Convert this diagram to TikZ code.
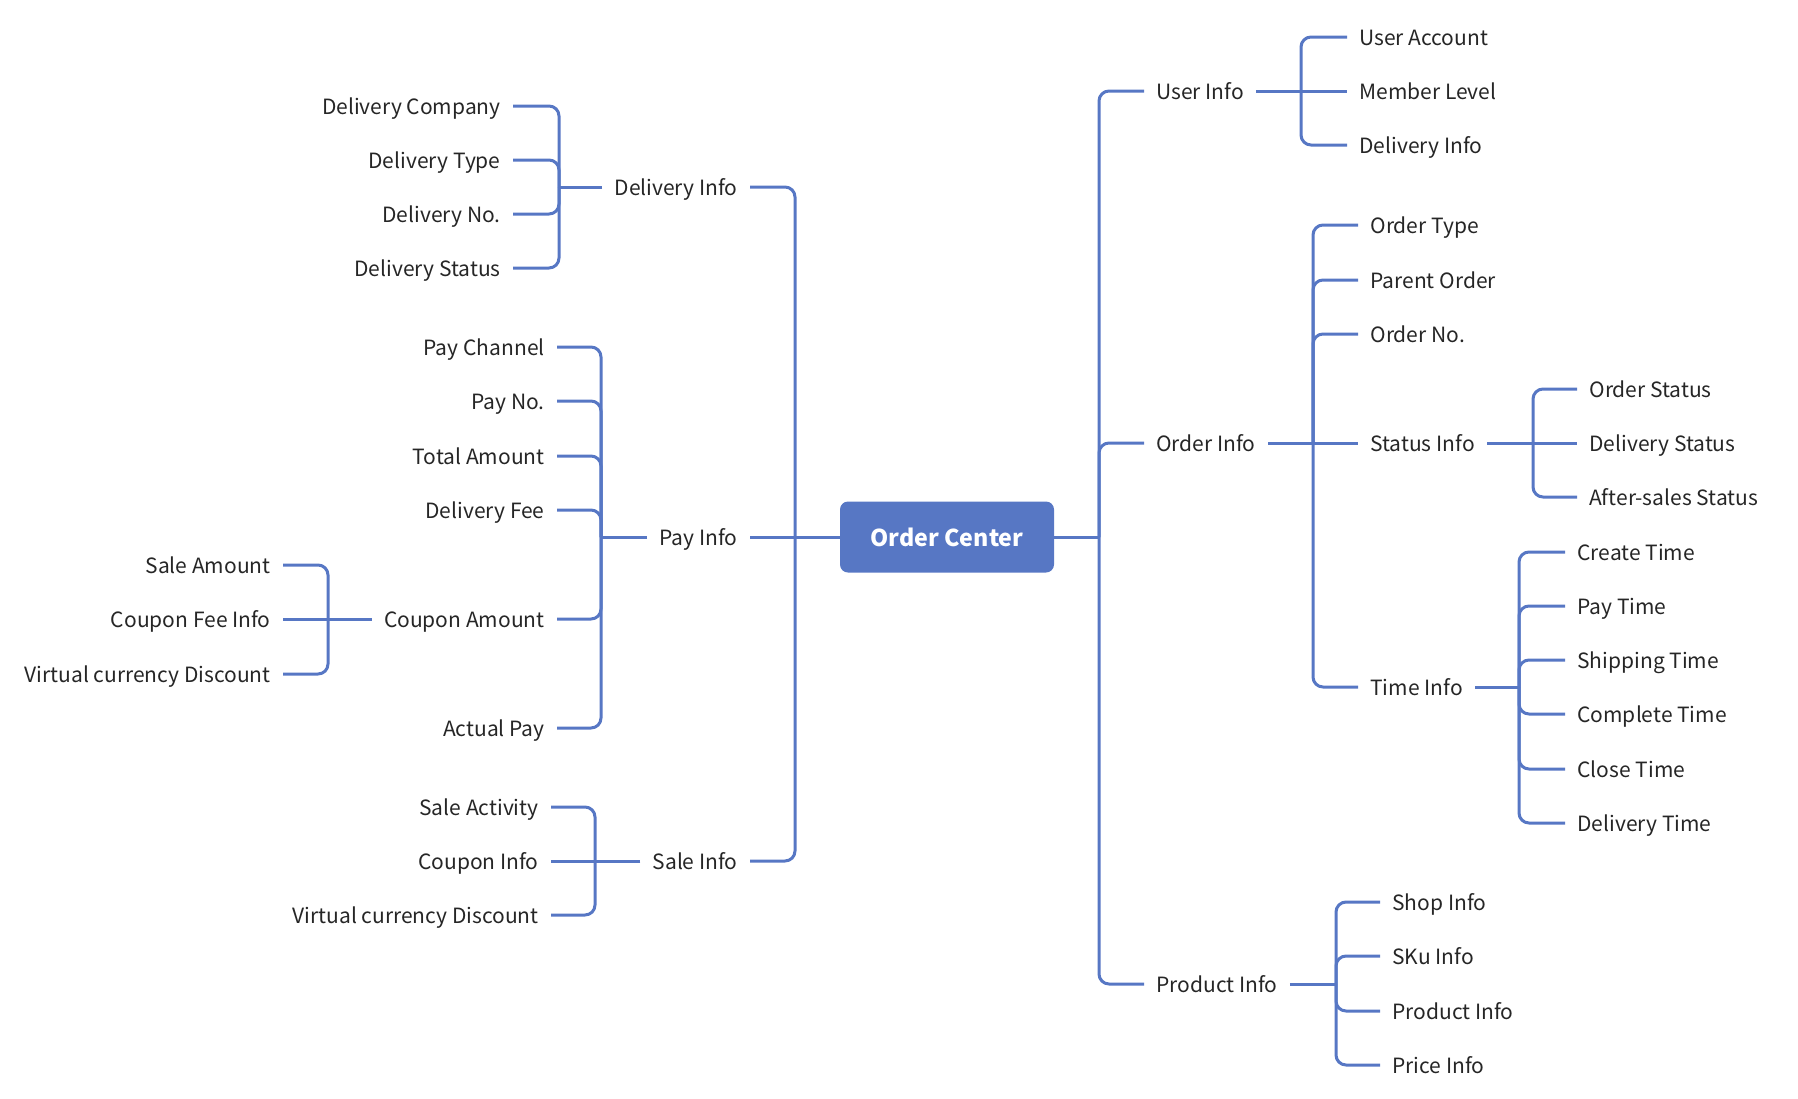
\documentclass[tikz,border=0pt]{standalone}
\usepackage{fontspec}
\setmainfont{Noto Sans CJK SC}
\usepackage{xcolor}
\definecolor{mapblue}{RGB}{87,119,196}
\definecolor{maptext}{RGB}{38,38,38}

\begin{document}
\begin{tikzpicture}[x=0.5pt,y=-0.5pt,
    lbl/.style={inner ysep=0pt, inner xsep=6pt, text height=8.3pt, text depth=0pt,
        font=\fontsize{10.5}{13}\selectfont, text=maptext},
    rlbl/.style={lbl, anchor=west},
    llbl/.style={lbl, anchor=east},
    edge/.style={draw=mapblue, line width=1.5pt, rounded corners=5pt},
    rootbox/.style={fill=mapblue, rounded corners=4pt, minimum width=107pt, minimum height=35.5pt,
        text=white, font=\fontsize{11.6}{14}\selectfont\bfseries}]
    \useasboundingbox (0,0) rectangle (1798,1098);

    % Root
    \node[rootbox] (root) at (947,537) {Order Center};
    \coordinate (rootR) at (1099,537);
    \coordinate (rootL) at (795,537);
    \draw[edge] (root.east) -- (rootR);
    \draw[edge] (root.west) -- (rootL);

    %% right side
    \node[rlbl] (uinfo) at (1144,91) {User Info};
    \node[rlbl] (oinfo) at (1144,443) {Order Info};
    \node[rlbl] (prinfo) at (1144,984) {Product Info};
    \foreach \c in {uinfo,oinfo,prinfo} \draw[edge] (rootR) |- (\c.west);

    % User Info
    \node[rlbl] (uacc) at (1347,37) {User Account};
    \node[rlbl] (mlvl) at (1347,91) {Member Level};
    \node[rlbl] (udlv) at (1347,145) {Delivery Info};
    \coordinate (uinfoJ) at (1301,91);
    \draw[edge] (uinfo.east) -- (mlvl.west);
    \foreach \c in {uacc,udlv} \draw[edge] (uinfoJ) |- (\c.west);

    % Order Info
    \node[rlbl] (otype) at (1358,225) {Order Type};
    \node[rlbl] (parent) at (1358,280) {Parent Order};
    \node[rlbl] (ono) at (1358,334) {Order No.};
    \node[rlbl] (sinf) at (1358,443) {Status Info};
    \node[rlbl] (tinf) at (1358,687) {Time Info};
    \coordinate (oinfoJ) at (1313,443);
    \draw[edge] (oinfo.east) -- (sinf.west);
    \foreach \c in {otype,parent,ono,tinf} \draw[edge] (oinfoJ) |- (\c.west);

    % Status Info
    \node[rlbl] (ostat) at (1577,389) {Order Status};
    \node[rlbl] (dstat) at (1577,443) {Delivery Status};
    \node[rlbl] (astat) at (1577,497) {After-sales Status};
    \coordinate (sinfJ) at (1533,443);
    \draw[edge] (sinf.east) -- (dstat.west);
    \foreach \c in {ostat,astat} \draw[edge] (sinfJ) |- (\c.west);

    % Time Info
    \node[rlbl] (tcreate) at (1565,552) {Create Time};
    \node[rlbl] (tpay) at (1565,606) {Pay Time};
    \node[rlbl] (tship) at (1565,660) {Shipping Time};
    \node[rlbl] (tdone) at (1565,714) {Complete Time};
    \node[rlbl] (tclose) at (1565,769) {Close Time};
    \node[rlbl] (tdlv) at (1565,823) {Delivery Time};
    \coordinate (tinfJ) at (1519,687);
    \draw[edge] (tinf.east) -- (tinfJ);
    \foreach \c in {tcreate,tpay,tship,tdone,tclose,tdlv} \draw[edge] (tinfJ) |- (\c.west);

    % Product Info
    \node[rlbl] (shop) at (1380,902) {Shop Info};
    \node[rlbl] (sku) at (1380,956) {SKu Info};
    \node[rlbl] (prod) at (1380,1011) {Product Info};
    \node[rlbl] (price) at (1380,1065) {Price Info};
    \coordinate (prinfoJ) at (1336,984);
    \draw[edge] (prinfo.east) -- (prinfoJ);
    \foreach \c in {shop,sku,prod,price} \draw[edge] (prinfoJ) |- (\c.west);

    %% left side
    \node[llbl] (dinfo) at (750,187) {Delivery Info};
    \node[llbl] (payinfo) at (750,537) {Pay Info};
    \node[llbl] (salinfo) at (750,861) {Sale Info};
    \draw[edge] (rootL) -- (payinfo.east);
    \foreach \c in {dinfo,salinfo} \draw[edge] (rootL) |- (\c.east);

    % Delivery Info
    \node[llbl] (dcomp) at (513,106) {Delivery Company};
    \node[llbl] (dtype) at (513,160) {Delivery Type};
    \node[llbl] (dno) at (513,214) {Delivery No.};
    \node[llbl] (dstat2) at (513,268) {Delivery Status};
    \coordinate (dinfoJ) at (559,187);
    \draw[edge] (dinfo.west) -- (dinfoJ);
    \foreach \c in {dcomp,dtype,dno,dstat2} \draw[edge] (dinfoJ) |- (\c.east);

    % Pay Info
    \node[llbl] (pchan) at (557,347) {Pay Channel};
    \node[llbl] (pno) at (557,401) {Pay No.};
    \node[llbl] (ptotal) at (557,456) {Total Amount};
    \node[llbl] (pfee) at (557,510) {Delivery Fee};
    \node[llbl] (coupon) at (557,619) {Coupon Amount};
    \node[llbl] (actual) at (557,728) {Actual Pay};
    \coordinate (payinfoJ) at (601,537);
    \draw[edge] (payinfo.west) -- (payinfoJ);
    \foreach \c in {pchan,pno,ptotal,pfee,coupon,actual} \draw[edge] (payinfoJ) |- (\c.east);

    % Coupon Amount
    \node[llbl] (samt) at (283,565) {Sale Amount};
    \node[llbl] (cfee) at (283,619) {Coupon Fee Info};
    \node[llbl] (vdisc) at (283,674) {Virtual currency Discount};
    \coordinate (couponJ) at (328,619);
    \draw[edge] (coupon.west) -- (cfee.east);
    \foreach \c in {samt,vdisc} \draw[edge] (couponJ) |- (\c.east);

    % Sale Info
    \node[llbl] (sact) at (551,807) {Sale Activity};
    \node[llbl] (cinfo) at (551,861) {Coupon Info};
    \node[llbl] (vdisc2) at (551,915) {Virtual currency Discount};
    \coordinate (salinfoJ) at (595,861);
    \draw[edge] (salinfo.west) -- (cinfo.east);
    \foreach \c in {sact,vdisc2} \draw[edge] (salinfoJ) |- (\c.east);

\end{tikzpicture}
\end{document}
